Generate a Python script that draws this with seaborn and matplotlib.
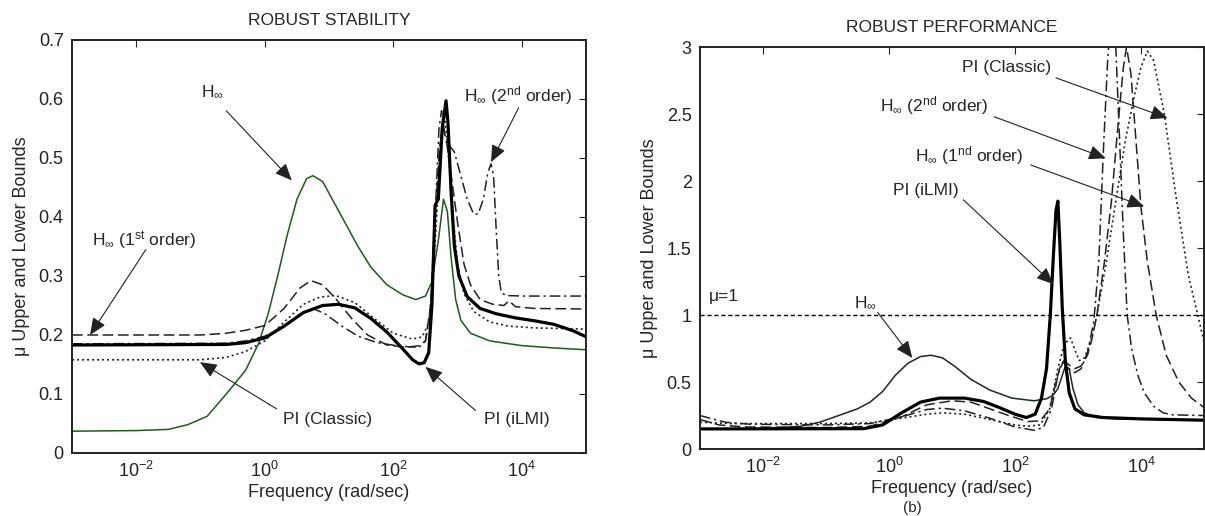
import numpy as np
import matplotlib
matplotlib.use('Agg')
import matplotlib.pyplot as plt
from matplotlib.ticker import NullLocator
import seaborn as sns

# ---------------------------------------------------------------
# ROBUST STABILITY (left) : log10(freq) / mu
rs_hinf_lf = [-3, -2, -1.5, -1.2, -0.9, -0.6, -0.3, -0.1, 0.05, 0.2, 0.35, 0.5, 0.65, 0.75, 0.9,
              1.05, 1.25, 1.45, 1.65, 1.9, 2.15, 2.35, 2.5, 2.6, 2.7, 2.78, 2.84, 2.9, 2.97, 3.05,
              3.2, 3.5, 4.0, 4.5, 5.0]
rs_hinf_mu = [0.037, 0.038, 0.04, 0.048, 0.062, 0.1, 0.14, 0.185, 0.235, 0.3, 0.37, 0.43, 0.465, 0.47, 0.46,
              0.43, 0.39, 0.35, 0.315, 0.285, 0.268, 0.26, 0.266, 0.29, 0.36, 0.43, 0.41, 0.33, 0.26, 0.225,
              0.203, 0.19, 0.182, 0.178, 0.175]

rs_h1_lf = [-3, -1.0, -0.6, -0.3, 0.0, 0.3, 0.55, 0.72, 0.9, 1.1, 1.35, 1.6, 1.9, 2.2, 2.4, 2.5, 2.58,
            2.65, 2.72, 2.78, 2.84, 2.9, 3.0, 3.1, 3.2, 3.35, 3.55, 3.72, 3.8, 3.9, 4.2, 5.0]
rs_h1_mu = [0.2, 0.2, 0.203, 0.208, 0.216, 0.245, 0.28, 0.292, 0.285, 0.262, 0.228, 0.2, 0.183, 0.179, 0.182,
            0.19, 0.25, 0.4, 0.52, 0.55, 0.52, 0.47, 0.39, 0.32, 0.285, 0.26, 0.252, 0.25, 0.258, 0.248,
            0.245, 0.244]

rs_h2_lf = [-3, -0.6, -0.3, 0.0, 0.3, 0.55, 0.75, 0.95, 1.2, 1.45, 1.75, 2.1, 2.4, 2.5, 2.58, 2.65, 2.71,
            2.75, 2.8, 2.88, 2.95, 3.05, 3.15, 3.25, 3.32, 3.4, 3.47, 3.52, 3.56, 3.6, 3.64, 3.68, 3.75,
            4.0, 5.0]
rs_h2_mu = [0.185, 0.186, 0.19, 0.198, 0.215, 0.235, 0.245, 0.235, 0.215, 0.198, 0.187, 0.181, 0.179, 0.19,
            0.24, 0.4, 0.55, 0.58, 0.54, 0.52, 0.51, 0.47, 0.43, 0.405, 0.405, 0.43, 0.475, 0.49, 0.47,
            0.38, 0.3, 0.272, 0.267, 0.266, 0.266]

rs_pic_lf = [-3, -1.0, -0.6, -0.3, 0.0, 0.3, 0.6, 0.85, 1.1, 1.4, 1.7, 2.0, 2.3, 2.45, 2.55, 2.62, 2.7,
             2.76, 2.8, 2.86, 2.93, 3.0, 3.1, 3.25, 3.5, 3.8, 4.2, 5.0]
rs_pic_mu = [0.158, 0.158, 0.162, 0.172, 0.19, 0.222, 0.252, 0.264, 0.267, 0.255, 0.228, 0.203, 0.193,
             0.197, 0.22, 0.3, 0.45, 0.56, 0.57, 0.5, 0.4, 0.32, 0.27, 0.24, 0.222, 0.215, 0.212, 0.21]

rs_pil_lf = [-3, -0.6, -0.3, 0.0, 0.3, 0.6, 0.9, 1.15, 1.4, 1.65, 1.9, 2.15, 2.3, 2.4, 2.48, 2.55, 2.6,
             2.65, 2.7, 2.76, 2.82, 2.85, 2.9, 2.95, 3.02, 3.15, 3.35, 3.6, 3.9, 4.2, 4.5, 4.8, 5.0]
rs_pil_mu = [0.183, 0.184, 0.187, 0.195, 0.215, 0.238, 0.25, 0.252, 0.246, 0.228, 0.205, 0.176, 0.158,
             0.151, 0.153, 0.17, 0.25, 0.42, 0.43, 0.55, 0.597, 0.56, 0.44, 0.35, 0.3, 0.265, 0.245,
             0.236, 0.229, 0.224, 0.218, 0.207, 0.197]

# ---------------------------------------------------------------
# ROBUST PERFORMANCE (right)
rp_hinf_lf = [-3, -2.5, -2, -1.4, -1.1, -0.8, -0.5, -0.3, -0.1, 0.1, 0.3, 0.5, 0.67, 0.85, 1.05, 1.3,
              1.6, 1.95, 2.3, 2.5, 2.6, 2.68, 2.75, 2.8, 2.86, 2.92, 3.0, 3.1, 3.3, 3.6, 4.0, 5.0]
rp_hinf_mu = [0.15, 0.15, 0.152, 0.17, 0.2, 0.25, 0.3, 0.35, 0.43, 0.55, 0.64, 0.69, 0.7, 0.68, 0.615,
              0.52, 0.44, 0.38, 0.36, 0.375, 0.4, 0.45, 0.55, 0.62, 0.6, 0.45, 0.33, 0.27, 0.235, 0.225,
              0.222, 0.215]

rp_h1_lf = [-3, -2.7, -2.3, -1.0, -0.3, 0.2, 0.6, 1.0, 1.3, 1.6, 1.9, 2.2, 2.4, 2.55, 2.65, 2.72, 2.78,
            2.85, 2.95, 3.05, 3.15, 3.22, 3.3, 3.42, 3.53, 3.65, 3.72, 3.77, 3.84, 3.92, 4.0, 4.1, 4.24,
            4.4, 4.6, 4.8, 5.0]
rp_h1_mu = [0.22, 0.18, 0.165, 0.16, 0.17, 0.24, 0.33, 0.36, 0.35, 0.3, 0.25, 0.205, 0.21, 0.3, 0.5, 0.62,
            0.66, 0.63, 0.6, 0.62, 0.7, 0.82, 1.0, 1.4, 1.85, 2.5, 2.85, 3.0, 2.8, 2.3, 1.8, 1.4, 1.0,
            0.7, 0.5, 0.38, 0.31]

rp_h2_lf = [-3, -2.6, -2.2, -1.0, -0.3, 0.2, 0.6, 0.85, 1.2, 1.6, 2.0, 2.3, 2.45, 2.58, 2.68, 2.76,
            2.85, 2.95, 3.05, 3.15, 3.25, 3.33, 3.4, 3.47, 3.53, 3.6, 3.66, 3.72, 3.78, 3.85, 3.95, 4.05,
            4.2, 4.35, 4.5, 5.0]
rp_h2_mu = [0.25, 0.2, 0.185, 0.18, 0.19, 0.24, 0.295, 0.305, 0.285, 0.23, 0.165, 0.14, 0.16, 0.3, 0.55,
            0.65, 0.6, 0.57, 0.6, 0.72, 0.95, 1.4, 2.2, 2.9, 3.3, 3.0, 2.3, 1.6, 1.0, 0.75, 0.55, 0.42,
            0.32, 0.27, 0.255, 0.25]

rp_pic_lf = [-3, -2.5, -1.0, -0.3, 0.2, 0.6, 0.85, 1.2, 1.6, 2.0, 2.2, 2.4, 2.55, 2.68, 2.78, 2.88,
             2.95, 3.02, 3.1, 3.2, 3.3, 3.45, 3.6, 3.75, 3.9, 4.0, 4.1, 4.2, 4.37, 4.55, 4.75, 4.9, 5.0]
rp_pic_mu = [0.2, 0.19, 0.19, 0.195, 0.23, 0.26, 0.27, 0.26, 0.22, 0.18, 0.17, 0.18, 0.3, 0.6, 0.78,
             0.83, 0.74, 0.66, 0.68, 0.8, 1.0, 1.4, 1.85, 2.3, 2.65, 2.85, 2.97, 2.9, 2.5, 1.9, 1.3,
             1.0, 0.8]

rp_pil_lf = [-3, -0.4, -0.1, 0.2, 0.5, 0.8, 1.2, 1.5, 1.75, 2.0, 2.18, 2.32, 2.42, 2.5, 2.56, 2.61,
             2.65, 2.68, 2.71, 2.75, 2.8, 2.86, 2.95, 3.1, 3.4, 4.0, 5.0]
rp_pil_mu = [0.15, 0.152, 0.18, 0.27, 0.35, 0.38, 0.38, 0.355, 0.31, 0.26, 0.235, 0.26, 0.38, 0.6, 1.0,
             1.45, 1.78, 1.85, 1.55, 1.05, 0.65, 0.42, 0.3, 0.255, 0.235, 0.225, 0.215]

mu_bound = 1.0
#----------------------------------------------------------------

sns.set_style('white')
plt.rcParams['font.family'] = ['Liberation Sans', 'DejaVu Sans']
plt.rcParams['mathtext.fontset'] = 'custom'
plt.rcParams['mathtext.rm'] = 'Liberation Sans'
plt.rcParams['mathtext.it'] = 'Liberation Sans:italic'
plt.rcParams['mathtext.bf'] = 'Liberation Sans:bold'
plt.rcParams['mathtext.default'] = 'regular'

fig = plt.figure(figsize=(12.05, 5.16), dpi=100)
ax1 = fig.add_axes([0.0598, 0.1221, 0.4266, 0.8004])
ax2 = fig.add_axes([0.5809, 0.1298, 0.4183, 0.7790])

GREEN = '#1e5a1e'
DASH = (0, (7, 3))
DASHDOT = (0, (7, 2.5, 1.5, 2.5))
DOT = (0, (1.2, 1.8))


def curve(ax, lf, mu, **kw):
    sns.lineplot(x=10 ** np.array(lf), y=mu, ax=ax, estimator=None, sort=False, **kw)


for ax in (ax1, ax2):
    ax.set_xscale('log')

# 왼쪽 : robust stability
curve(ax1, rs_hinf_lf, rs_hinf_mu, color=GREEN, lw=1.1)
curve(ax1, rs_h1_lf, rs_h1_mu, color='#222222', lw=1.1, linestyle=DASH)
curve(ax1, rs_h2_lf, rs_h2_mu, color='#222222', lw=1.1, linestyle=DASHDOT)
curve(ax1, rs_pic_lf, rs_pic_mu, color='#222222', lw=1.2, linestyle=DOT)
curve(ax1, rs_pil_lf, rs_pil_mu, color='black', lw=2.3)

# 오른쪽 : robust performance
curve(ax2, rp_hinf_lf, rp_hinf_mu, color='#1c2a1c', lw=1.1)
curve(ax2, rp_h1_lf, rp_h1_mu, color='#222222', lw=1.1, linestyle=DASH)
curve(ax2, rp_h2_lf, rp_h2_mu, color='#222222', lw=1.1, linestyle=DASHDOT)
curve(ax2, rp_pic_lf, rp_pic_mu, color='#222222', lw=1.2, linestyle=DOT)
curve(ax2, rp_pil_lf, rp_pil_mu, color='black', lw=2.3)
ax2.axhline(mu_bound, color='black', lw=1.0, linestyle=(0, (3, 2)))

# 축 설정
for ax in (ax1, ax2):
    ax.set_xlim(1e-3, 1e5)
    ax.set_xticks([1e-2, 1e0, 1e2, 1e4])
    ax.xaxis.set_minor_locator(NullLocator())
    ax.tick_params(direction='in', top=True, right=True, length=5, width=0.8,
                   labelsize=13, colors='#222222', pad=6)
    for s in ax.spines.values():
        s.set_linewidth(1.4)
        s.set_color('#222222')
    ax.set_xlabel('Frequency (rad/sec)', fontsize=13, labelpad=2)
    ax.set_ylabel('\u03bc Upper and Lower Bounds', fontsize=13, labelpad=6)

ax1.set_ylim(0, 0.7)
ax1.set_yticks(np.arange(0, 0.71, 0.1))
ax1.set_yticklabels(['0', '0.1', '0.2', '0.3', '0.4', '0.5', '0.6', '0.7'])
ax2.set_ylim(0, 3)
ax2.set_yticks([0, 0.5, 1, 1.5, 2, 2.5, 3])
ax2.set_yticklabels(['0', '0.5', '1', '1.5', '2', '2.5', '3'])

ax1.set_title('ROBUST STABILITY', fontsize=12.5, pad=11)
ax2.set_title('ROBUST PERFORMANCE', fontsize=12.5, pad=11)

# 주석 화살표
AP = dict(arrowstyle='-|>,head_length=0.65,head_width=0.28', color='#222222', lw=0.8,
          mutation_scale=16, shrinkA=0, shrinkB=0)
FS = 12.5
HINF = r'H$_\infty$'


def note(ax, text, txy, tail, tip, ha='center'):
    ax.text(txy[0], txy[1], text, fontsize=FS, ha=ha, va='center')
    ax.annotate('', xy=tip, xytext=tail, arrowprops=AP)


note(ax1, HINF, (10 ** -0.82, 0.612), (10 ** -0.6, 0.58), (10 ** 0.42, 0.462))
note(ax1, HINF + r' (2$^{\rm nd}$ order)', (10 ** 3.95, 0.605), (10 ** 3.95, 0.585), (10 ** 3.52, 0.493))
note(ax1, HINF + r' (1$^{\rm st}$ order)', (10 ** -1.88, 0.36), (10 ** -1.85, 0.345), (10 ** -2.72, 0.2))
note(ax1, 'PI (Classic)', (10 ** 0.98, 0.057), (10 ** 0.18, 0.075), (10 ** -1.01, 0.154))
note(ax1, 'PI (iLMI)', (10 ** 3.92, 0.057), (10 ** 3.28, 0.072), (10 ** 2.5, 0.146))

note(ax2, 'PI (Classic)', (10 ** 1.86, 2.85), (10 ** 2.65, 2.77), (10 ** 4.42, 2.47))
note(ax2, HINF + r' (2$^{\rm nd}$ order)', (10 ** 0.72, 2.56), (10 ** 1.67, 2.48), (10 ** 3.44, 2.17))
note(ax2, HINF + r' (1$^{\rm nd}$ order)', (10 ** 1.28, 2.19), (10 ** 2.25, 2.12), (10 ** 4.05, 1.81))
note(ax2, 'PI (iLMI)', (10 ** 0.59, 1.93), (10 ** 1.18, 1.86), (10 ** 2.61, 1.23))
note(ax2, HINF, (10 ** -0.37, 1.09), (10 ** -0.18, 1.02), (10 ** 0.37, 0.68))
ax2.text(10 ** -2.62, 1.14, '\u03bc=1', fontsize=FS, ha='center', va='center')

fig.text(0.757, 0.002, '(b)', fontsize=11, ha='center', va='bottom')

plt.savefig('out.png', dpi=100)
